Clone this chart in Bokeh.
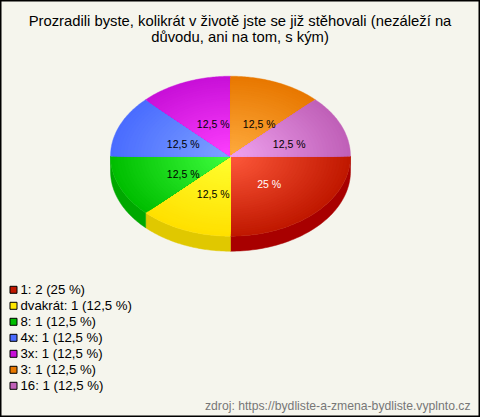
import numpy as np
from bokeh.embed import file_html
from bokeh.resources import INLINE
from bokeh.plotting import figure
from bokeh.core.properties import value

title_lines = ["Prozradili byste, kolikrát v životě jste se již stěhovali (nezáleží na",
               "důvodu, ani na tom, s kým)"]
categories = ["1", "dvakrát", "8", "4x", "3x", "3", "16"]
counts = [2, 1, 1, 1, 1, 1, 1]
legend_colors = ["#C01800", "#FFE800", "#00BE00", "#4A6CFF", "#C810D8", "#E87800", "#C060B8"]
inner_colors = ["#FF5A3C", "#FFFF30", "#40FF40", "#80A4FF", "#FF40FF", "#FFAC40", "#F0A4F0"]
outer_colors = ["#C01800", "#FFE000", "#00BE00", "#4A6CFF", "#C810D8", "#E87800", "#C060B8"]
side_colors = ["#A80000", "#E0C800", "#00A800", "#3A55CC", "#A00CAC", "#B86000", "#994C93"]
label_colors = ["#FFFFFF", "#000000", "#000000", "#000000", "#000000", "#000000", "#000000"]
source_text = "zdroj: https://bydliste-a-zmena-bydliste.vyplnto.cz"

BG = "#F5F5ED"
CX, CY, RX, RY, DEPTH = 230, 155.7, 120, 80, 15
RINGS = 36

# label offsets from the pie centre, in pixels
label_dx = [38.7, -17.3, -47.3, -47.3, -17.3, 28.7, 58.7]
label_dy = [27.3, 37.6, 17.6, -12.4, -32.4, -32.4, -12.4]


def hex_rgb(c):
    return np.array([int(c[i:i + 2], 16) for i in (1, 3, 5)], dtype=float)


def mix(a, b, t):
    r = hex_rgb(a) * (1 - t) + hex_rgb(b) * t
    return "#%02X%02X%02X" % tuple(int(round(v)) for v in r)


def fmt_pct(v):
    return f"{v:g}".replace(".", ",")


total = sum(counts)
shares = [c / total for c in counts]
edges = np.concatenate([[0], np.cumsum(shares)]) * 2 * np.pi  # clockwise from 3 o'clock

p = figure(width=480, height=417, x_range=(0, 480), y_range=(417, 0),
           output_backend="svg", toolbar_location=None, min_border=0,
           background_fill_color=BG, border_fill_color=BG,
           outline_line_color="#000000", outline_line_width=2)
p.axis.visible = False
p.grid.visible = False

# side wall (only the front half is visible)
for i in range(len(counts)):
    a0, a1 = edges[i], min(edges[i + 1], np.pi)
    if a0 >= np.pi:
        continue
    t = np.linspace(a0, a1, 60)
    x = CX + RX * np.cos(t)
    y = CY + RY * np.sin(t)
    xs = np.concatenate([x, x[::-1]])
    ys = np.concatenate([y, y[::-1] + DEPTH])
    p.patch(xs, ys, fill_color=side_colors[i], line_color=side_colors[i], line_width=0.5)

# top face: concentric shaded bands
xs_all, ys_all, cols = [], [], []
for i in range(len(counts)):
    t = np.linspace(edges[i], edges[i + 1], 60)
    for k in range(RINGS, 0, -1):
        f = k / RINGS
        xs_all.append(np.concatenate([[CX], CX + RX * f * np.cos(t)]))
        ys_all.append(np.concatenate([[CY], CY + RY * f * np.sin(t)]))
        cols.append(mix(inner_colors[i], outer_colors[i], f))
p.patches(xs_all, ys_all, fill_color=cols, line_color=cols, line_width=0.4)

# percent labels
p.text([CX + d for d in label_dx], [CY + d for d in label_dy],
       text=[f"{fmt_pct(s * 100)} %" for s in shares],
       text_color=label_colors, text_font=value("Liberation Sans"), text_font_size="10.5px",
       text_align="center", text_baseline="middle")

# title
p.text([239.5, 239.5], [20, 36], text=title_lines, text_color="#000000",
       text_font=value("Liberation Sans"), text_font_size="14.8px",
       text_align="center", text_baseline="middle")

# legend
rows = [289.3 + 16 * i for i in range(len(categories))]
p.scatter([13] * len(rows), rows, marker="square", size=7,
          fill_color=legend_colors, line_color="#000000", line_width=1, line_join="miter")
p.text([20] * len(rows), rows,
       text=[f"{c}: {n} ({fmt_pct(s * 100)} %)" for c, n, s in zip(categories, counts, shares)],
       text_color="#000000", text_font=value("Liberation Sans"), text_font_size="13.2px",
       text_align="left", text_baseline="middle")

# source
p.text([470], [405], text=[source_text], text_color="#777777",
       text_font=value("Liberation Sans"), text_font_size="12.2px",
       text_align="right", text_baseline="middle")

open("out.html", "w").write(file_html(p, INLINE, title="Prozradili byste"))
